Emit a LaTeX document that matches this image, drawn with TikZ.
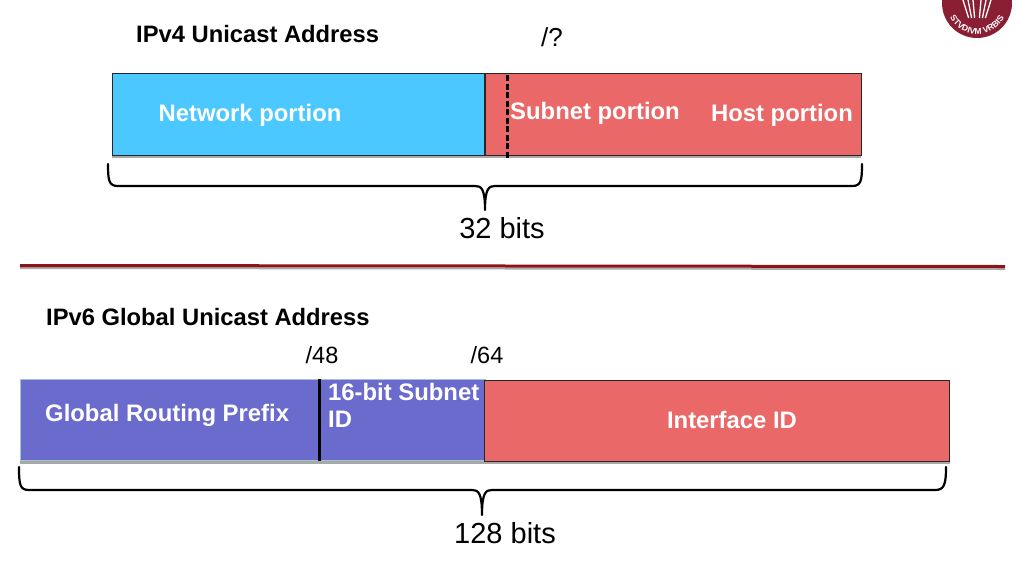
\documentclass[tikz,border=0pt]{standalone}
\usepackage{fontspec}
\setmainfont{Liberation Sans}
\usetikzlibrary{decorations.text}
\definecolor{skyb}{HTML}{4BC8FF}
\definecolor{salmon}{HTML}{EA6868}
\definecolor{viol}{HTML}{6B6BCD}
\definecolor{wine}{HTML}{8A1F33}
\definecolor{rulered}{HTML}{8C1418}
\definecolor{shadowg}{HTML}{A8A8A8}
\definecolor{paleedge}{HTML}{A0C4D0}
\tikzset{
  x=1pt,y=-1pt,
  boxlbl/.style={font=\fontsize{23.85}{27}\selectfont\bfseries,text=white,inner sep=0,anchor=base},
  boldlbl/.style={font=\fontsize{23.75}{27}\selectfont\bfseries,text=black,inner sep=0,anchor=base west},
  smalllbl/.style={font=\fontsize{23.5}{27}\selectfont,text=black,inner sep=0,anchor=base},
  biglbl/.style={font=\fontsize{29}{33}\selectfont,text=black,inner sep=0,anchor=base},
  bracel/.style={draw=black,line width=2.2pt,line cap=round,line join=round},
  divider/.style={draw=black,line width=2.2pt}
}
\begin{document}
\begin{tikzpicture}
\useasboundingbox (0,0) rectangle (1016,563);
\fill[white] (0,0) rectangle (1016,563);
% logo
\begin{scope}
\clip (900,0) rectangle (1016,50);
\fill[wine] (977,3) circle[radius=35];
\foreach \a in {-14,-9,-4,4,9,14}{\draw[white,line width=1.3pt] (977+\a,0) -- (977+\a*0.6,18);}
\path[postaction={decorate,decoration={text along path,text align=center,
  text={|\fontsize{8.5}{9}\selectfont\bfseries\color{white}|STVDIVM VRBIS}}}]
  (946,3) .. controls (946,20) and (960,34) .. (977,34) .. controls (994,34) and (1008,20) .. (1008,3);
\end{scope}
% IPv4
\node[boldlbl] (t4) at (136,42) {IPv4 Unicast Address};
\node[smalllbl,font=\fontsize{26}{30}\selectfont] (q) at (552,46) {/?};
\fill[shadowg] (112,155) rectangle (861,158);
\node[draw=black!85,line width=1pt,fill=skyb,minimum width=372pt,minimum height=82pt,inner sep=0,anchor=north west] (net) at (112,73) {};
\node[draw=black!85,line width=1pt,fill=salmon,minimum width=376pt,minimum height=82pt,inner sep=0,anchor=north west] (sub) at (485,73) {};
\coordinate (da) at (507.5,75);
\coordinate (db) at (507.5,159);
\draw[black,line width=2.4pt,dash pattern=on 6pt off 2.5pt] (da) -- (db);
\node[boxlbl] (lnet) at (250,121) {Network portion};
\node[boxlbl] (lsub) at (595,119) {Subnet portion};
\node[boxlbl] (lhost) at (782,121) {Host portion};
\draw[bracel] (108,164) .. controls (108,181) and (109,186) .. (118,186) -- (475,186) .. controls (481,186) and (485,188) .. (485,210) .. controls (485,188) and (489,186) .. (495,186) -- (852,186) .. controls (861,186) and (862,181) .. (862,164);
\node[biglbl] (b32) at (502,238) {32 bits};
% divider
\coordinate (la) at (20,265.5);
\coordinate (lb) at (1005,266.5);
\fill[shadowg] (20,267) -- (1005,268) -- (1005,270) -- (20,269) -- cycle;
\draw[rulered,line width=3pt] (la) -- (lb);
% IPv6
\node[boldlbl] (t6) at (46,325) {IPv6 Global Unicast Address};
\node[smalllbl] (p48) at (322,363) {/48};
\node[smalllbl] (p64) at (487,363) {/64};
\fill[shadowg] (20,460) rectangle (950,463.5);
\node[draw=paleedge,line width=1pt,fill=viol,minimum width=465pt,minimum height=81pt,inner sep=0,anchor=north west] (rp) at (19.5,379) {};
\node[draw=black!85,line width=1pt,fill=salmon,minimum width=465pt,minimum height=81pt,inner sep=0,anchor=north west] (iid) at (484,380) {};
\coordinate (sa) at (319.5,379);
\coordinate (sb) at (319.5,461);
\draw[divider] (sa) -- (sb);
\node[boxlbl,anchor=base west] (lgrp) at (45,421) {Global Routing Prefix};
\node[boxlbl,anchor=base west] (lsid) at (328,400) {16-bit Subnet};
\node[boxlbl,anchor=base west] (lid) at (328,427) {ID};
\node[boxlbl] (liid) at (732,428) {Interface ID};
\draw[bracel] (19,467) .. controls (19,485) and (20,490) .. (29,490) -- (472,490) .. controls (478,490) and (482,492) .. (482,515) .. controls (482,492) and (486,490) .. (492,490) -- (935,490) .. controls (944,490) and (946,485) .. (946,467);
\node[biglbl] (b128) at (505,543) {128 bits};
\end{tikzpicture}
\end{document}
